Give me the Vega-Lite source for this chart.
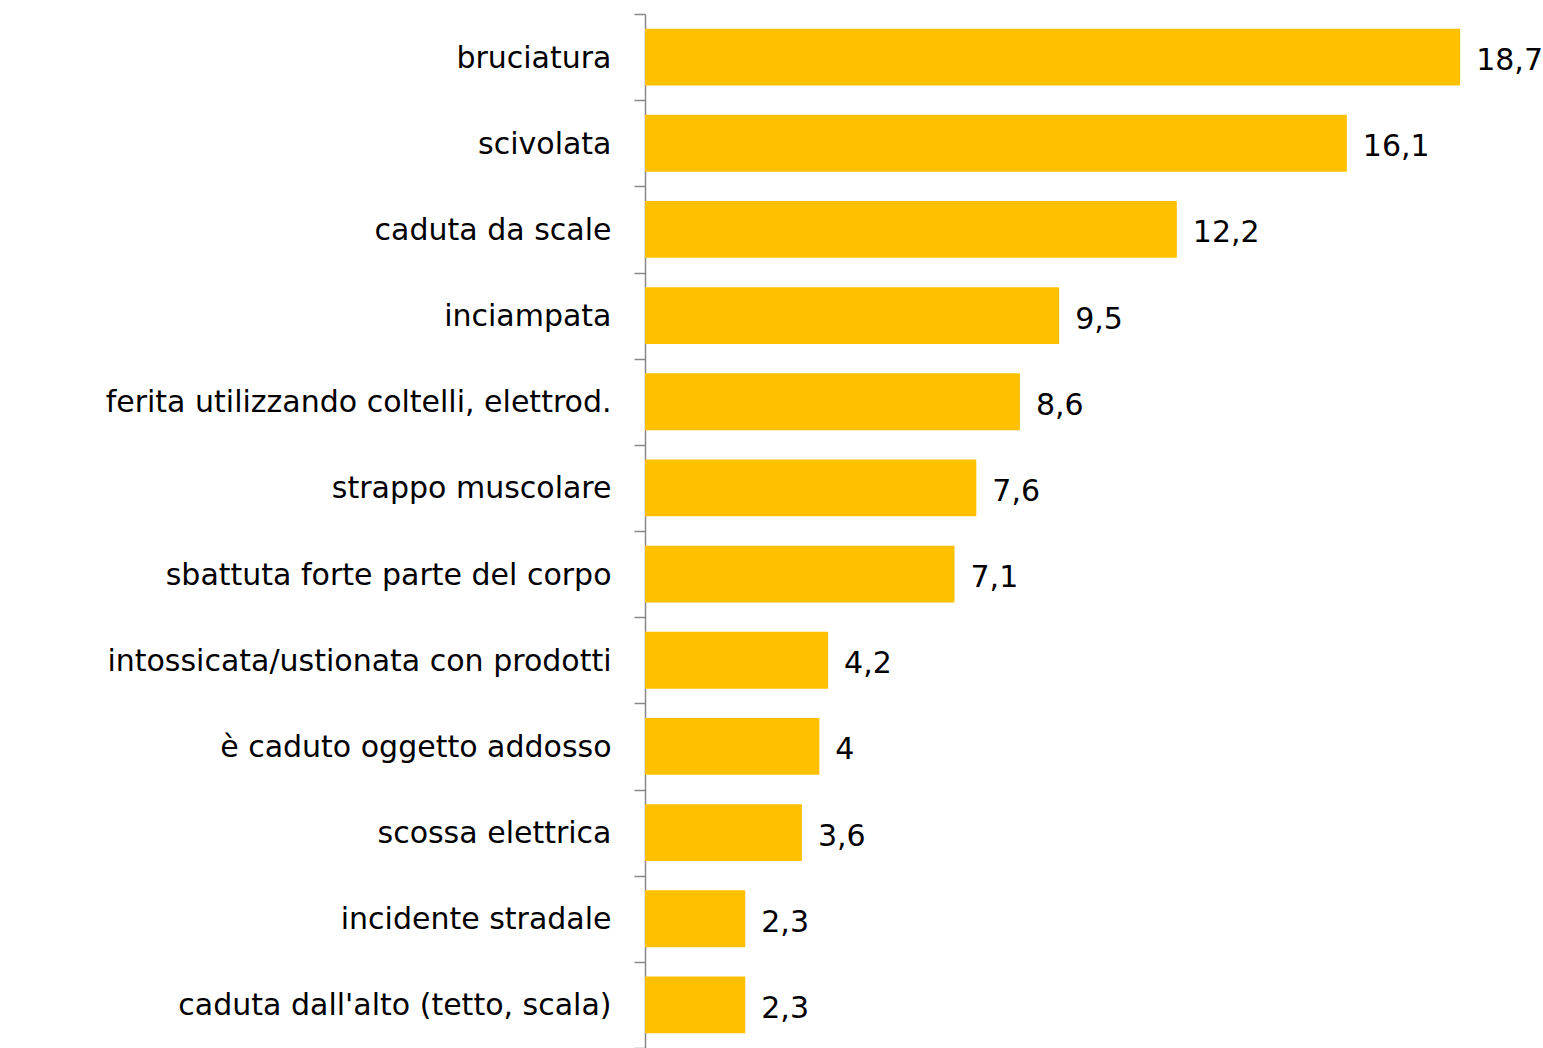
{
  "$schema": "https://vega.github.io/schema/vega-lite/v6.json",
  "width": 898,
  "height": 1034,
  "autosize": {"type": "none"},
  "padding": {"left": 645, "top": 14, "right": 0, "bottom": 0},
  "background": "white",
  "config": {
    "view": {"stroke": null},
    "locale": {"number": {"decimal": ",", "thousands": ".", "grouping": [3], "currency": ["€", ""]}}
  },
  "data": {
    "values": [
      {"causa": "bruciatura", "valore": 18.7},
      {"causa": "scivolata", "valore": 16.1},
      {"causa": "caduta da scale", "valore": 12.2},
      {"causa": "inciampata", "valore": 9.5},
      {"causa": "ferita utilizzando coltelli, elettrod.", "valore": 8.6},
      {"causa": "strappo muscolare", "valore": 7.6},
      {"causa": "sbattuta forte parte del corpo", "valore": 7.1},
      {"causa": "intossicata/ustionata con prodotti", "valore": 4.2},
      {"causa": "è caduto oggetto addosso", "valore": 4},
      {"causa": "scossa elettrica", "valore": 3.6},
      {"causa": "incidente stradale", "valore": 2.3},
      {"causa": "caduta dall'alto (tetto, scala)", "valore": 2.3}
    ]
  },
  "encoding": {
    "y": {
      "field": "causa",
      "type": "nominal",
      "sort": null,
      "scale": {"paddingInner": 0, "paddingOuter": 0},
      "axis": {
        "title": null,
        "tickBand": "extent",
        "tickSize": 11,
        "tickColor": "#888888",
        "tickWidth": 1.5,
        "domainColor": "#888888",
        "domainWidth": 1.5,
        "labelPadding": 23,
        "labelFont": "DejaVu Sans",
        "labelFontSize": 30,
        "labelBaseline": "alphabetic",
        "labelOffset": 10,
        "labelColor": "#000000",
        "labelLimit": 700
      }
    },
    "x": {
      "field": "valore",
      "type": "quantitative",
      "scale": {"domain": [0, 20.6], "nice": false},
      "axis": null
    }
  },
  "layer": [
    {"mark": {"type": "bar", "color": "#FFC000", "height": {"band": 0.66}}},
    {
      "mark": {"type": "text", "align": "left", "baseline": "alphabetic", "dx": 16, "dy": 13, "font": "DejaVu Sans", "fontSize": 30, "color": "#000000"},
      "encoding": {"text": {"field": "valore", "type": "quantitative", "format": ".1~f"}}
    }
  ]
}
